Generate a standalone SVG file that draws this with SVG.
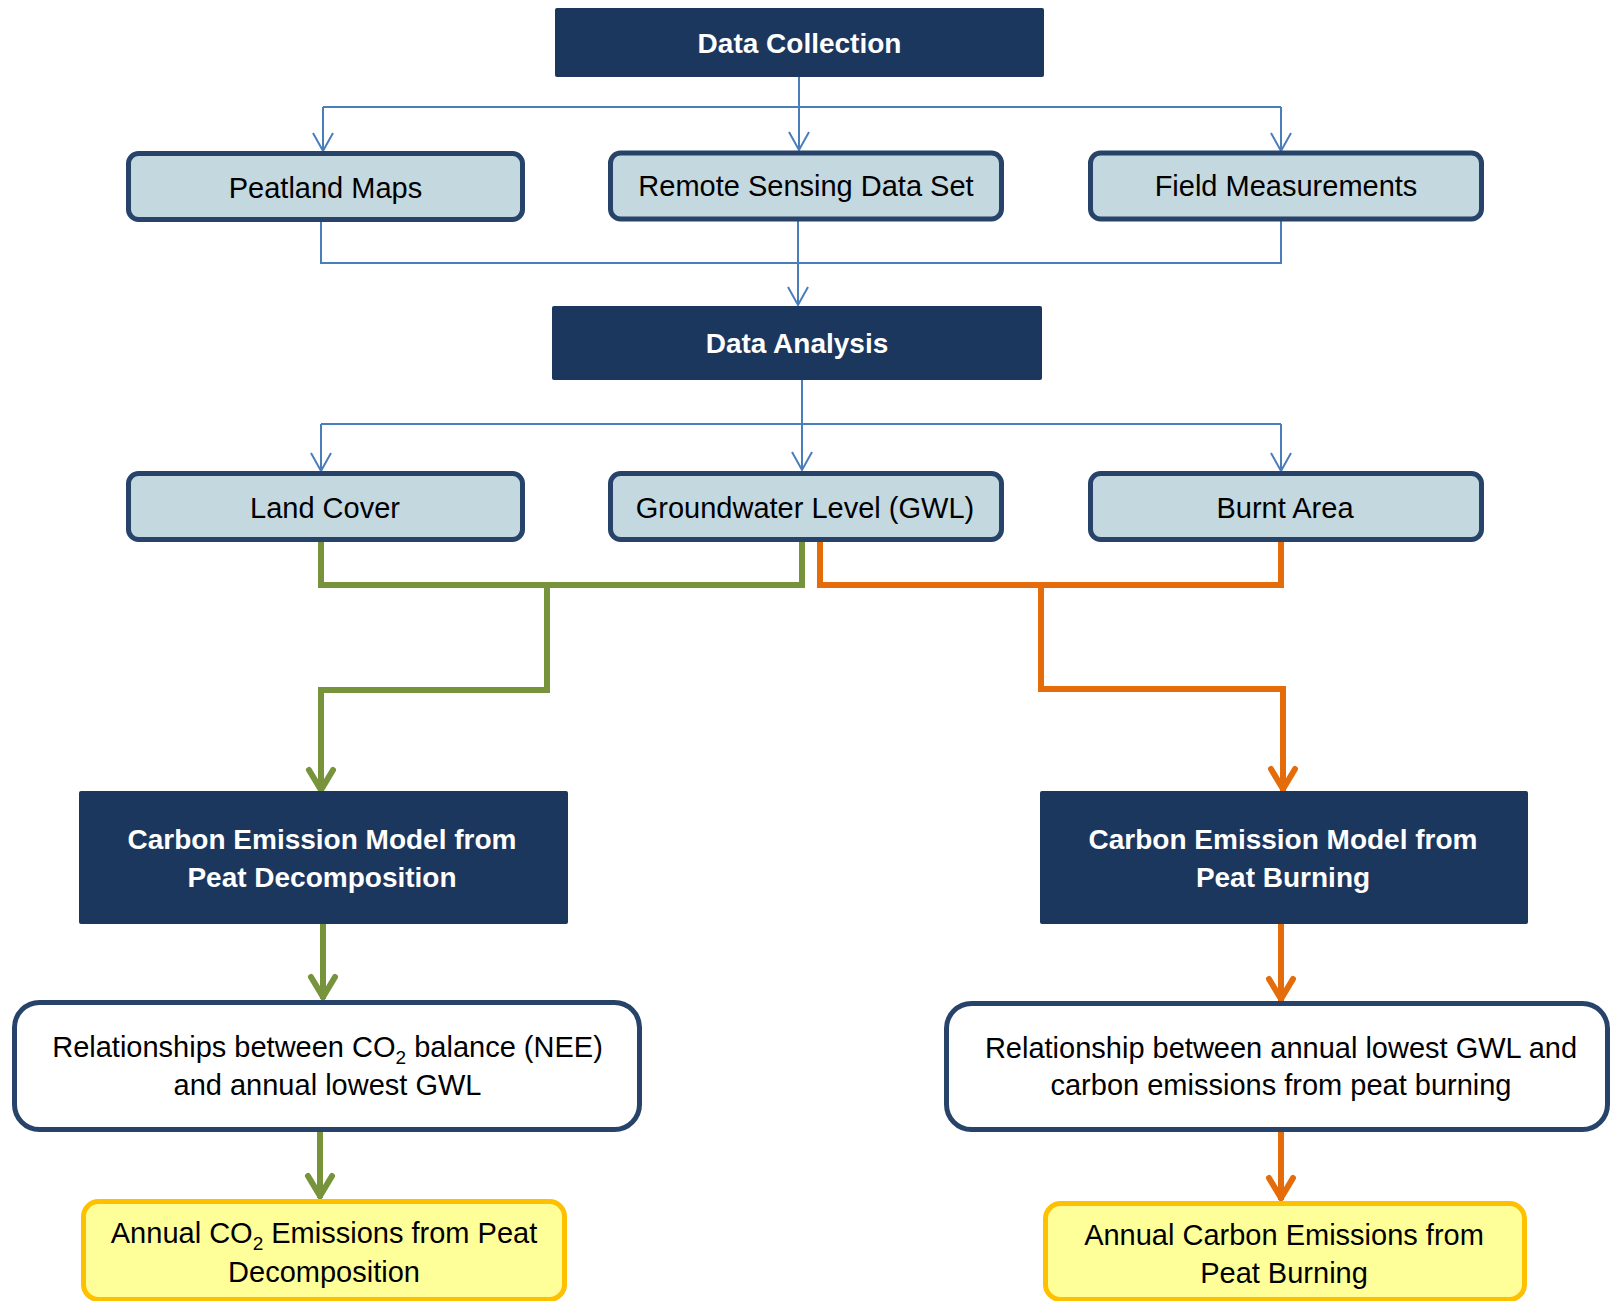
<svg xmlns="http://www.w3.org/2000/svg" width="1610" height="1301" viewBox="0 0 1610 1301">
<defs>
<style>
.dark{fill:#1b375e;}
.light{fill:#c4d8e0;stroke:#274369;stroke-width:5;}
.white{fill:#ffffff;stroke:#274369;stroke-width:5;}
.yellow{fill:#ffff99;stroke:#ffc000;stroke-width:5;}
.t{font-family:"Liberation Sans",Arial,sans-serif;font-size:29px;fill:#000;text-anchor:middle;}
.tb{font-family:"Liberation Sans",Arial,sans-serif;font-size:28px;font-weight:bold;fill:#fff;text-anchor:middle;}
.blue{fill:none;stroke:#4a7ebb;stroke-width:2;}
.green{fill:none;stroke:#77933c;stroke-width:6;}
.orange{fill:none;stroke:#e46c0a;stroke-width:6;}
</style>
<marker id="ab" markerUnits="userSpaceOnUse" markerWidth="40" markerHeight="40" viewBox="-20 -20 40 40" refX="0" refY="0" orient="auto" overflow="visible">
<path d="M-18,-10 L0,0 L-18,10" fill="none" stroke="#4a7ebb" stroke-width="2"/>
</marker>
<marker id="ag" markerUnits="userSpaceOnUse" markerWidth="60" markerHeight="60" viewBox="-30 -30 60 60" refX="0" refY="0" orient="auto" overflow="visible">
<path d="M-22,-12 L-2,0 L-22,12" fill="none" stroke="#77933c" stroke-width="6" stroke-linecap="round"/>
</marker>
<marker id="ao" markerUnits="userSpaceOnUse" markerWidth="60" markerHeight="60" viewBox="-30 -30 60 60" refX="0" refY="0" orient="auto" overflow="visible">
<path d="M-22,-12 L-2,0 L-22,12" fill="none" stroke="#e46c0a" stroke-width="6" stroke-linecap="round"/>
</marker>
</defs>
<rect width="1610" height="1301" fill="#ffffff"/>

<g id="connectors">
<path class="blue" d="M799,77 V150" marker-end="url(#ab)"/>
<path class="blue" d="M323,107 H1281"/>
<path class="blue" d="M323,107 V151" marker-end="url(#ab)"/>
<path class="blue" d="M1281,107 V151" marker-end="url(#ab)"/>
<path class="blue" d="M321,222 V263 H1281 V221"/>
<path class="blue" d="M798,221 V305" marker-end="url(#ab)"/>
<path class="blue" d="M802,380 V470" marker-end="url(#ab)"/>
<path class="blue" d="M321,424 H1281"/>
<path class="blue" d="M321,424 V471" marker-end="url(#ab)"/>
<path class="blue" d="M1281,424 V471" marker-end="url(#ab)"/>

<path class="green" d="M321,542 V585 H802 V542"/>
<path class="green" d="M547,585 V690 H321 V792" marker-end="url(#ag)"/>
<path class="green" d="M323,924 V999" marker-end="url(#ag)"/>
<path class="green" d="M320,1132 V1198" marker-end="url(#ag)"/>

<path class="orange" d="M820,542 V585 H1281 V542"/>
<path class="orange" d="M1041,585 V689 H1283 V791" marker-end="url(#ao)"/>
<path class="orange" d="M1281,924 V1001" marker-end="url(#ao)"/>
<path class="orange" d="M1281,1132 V1200" marker-end="url(#ao)"/>
</g>

<g id="data-collection">
<rect class="dark" x="555" y="8" width="489" height="69" rx="2"/>
<text class="tb" x="799.5" y="53">Data Collection</text>
</g>
<g id="peatland-maps">
<rect class="light" x="128.5" y="153.5" width="394" height="66" rx="10"/>
<text class="t" x="325.5" y="198">Peatland Maps</text>
</g>
<g id="remote-sensing">
<rect class="light" x="610.5" y="153" width="391" height="66" rx="10"/>
<text class="t" x="806" y="196">Remote Sensing Data Set</text>
</g>
<g id="field-measurements">
<rect class="light" x="1090.5" y="153" width="391" height="66" rx="10"/>
<text class="t" x="1286" y="196">Field Measurements</text>
</g>
<g id="data-analysis">
<rect class="dark" x="552" y="306" width="490" height="74" rx="2"/>
<text class="tb" x="797" y="353">Data Analysis</text>
</g>
<g id="land-cover">
<rect class="light" x="128.5" y="473.5" width="394" height="66" rx="10"/>
<text class="t" x="325" y="518">Land Cover</text>
</g>
<g id="gwl">
<rect class="light" x="610.5" y="473.5" width="391" height="66" rx="10"/>
<text class="t" x="805" y="518">Groundwater Level (GWL)</text>
</g>
<g id="burnt-area">
<rect class="light" x="1090.5" y="473.5" width="391" height="66" rx="10"/>
<text class="t" x="1285" y="518">Burnt Area</text>
</g>
<g id="model-decomposition">
<rect class="dark" x="79" y="791" width="489" height="133" rx="2"/>
<text class="tb" x="322" y="849">Carbon Emission Model from</text>
<text class="tb" x="322" y="887">Peat Decomposition</text>
</g>
<g id="model-burning">
<rect class="dark" x="1040" y="791" width="488" height="133" rx="2"/>
<text class="tb" x="1283" y="849">Carbon Emission Model from</text>
<text class="tb" x="1283" y="887">Peat Burning</text>
</g>
<g id="rel-decomposition">
<rect class="white" x="14.5" y="1002.5" width="625" height="127" rx="25"/>
<text class="t" x="327.5" y="1057">Relationships between CO<tspan font-size="19" dy="7">2</tspan><tspan dy="-7"> balance (NEE)</tspan></text>
<text class="t" x="327.5" y="1095">and annual lowest GWL</text>
</g>
<g id="rel-burning">
<rect class="white" x="946.5" y="1003.5" width="661" height="126" rx="25"/>
<text class="t" x="1281" y="1058">Relationship between annual lowest GWL and</text>
<text class="t" x="1281" y="1095">carbon emissions from peat burning</text>
</g>
<g id="annual-co2">
<rect class="yellow" x="83.5" y="1201.5" width="481" height="98" rx="15"/>
<text class="t" x="324" y="1243">Annual CO<tspan font-size="19" dy="7">2</tspan><tspan dy="-7"> Emissions from Peat</tspan></text>
<text class="t" x="324" y="1282">Decomposition</text>
</g>
<g id="annual-carbon">
<rect class="yellow" x="1045.5" y="1203.5" width="479" height="96" rx="15"/>
<text class="t" x="1284" y="1245">Annual Carbon Emissions from</text>
<text class="t" x="1284" y="1283">Peat Burning</text>
</g>
</svg>
